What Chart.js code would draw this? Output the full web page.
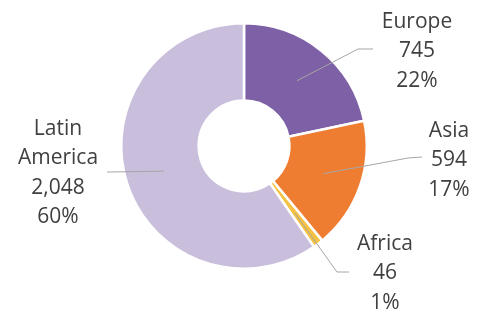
<!DOCTYPE html>
<html>
<head>
<meta charset="utf-8">
<script src="https://cdn.jsdelivr.net/npm/chart.js@4"></script>
<style>
  html, body { margin: 0; padding: 0; background: #fff; }
  #wrap { width: 485px; height: 311px; }
</style>
</head>
<body>
<div id="wrap"><canvas id="myChart"></canvas></div>
<script>
(function(){
  'use strict';

  const categories = ['Europe', 'Asia', 'Africa', 'Latin America'];
  const values = [745, 594, 46, 2048];
  const sliceColors = ['#7E60A6', '#EF7D31', '#F5C143', '#C9BEDC'];

  // label placement: text centre x, first line y, leader bend + end
  const labelSpots = [
    {x: 417, y: 22, bend: [358, 49], end: [373, 49]},
    {x: 449, y: 131, bend: [408, 158], end: [422, 157]},
    {x: 385, y: 244, bend: [337, 272], end: [349, 272]},
    {x: 58, y: 129, bend: [110, 172], end: [107, 172]}
  ];
  const lineGap = 29.3;

  const total = values.reduce((a, b) => a + b, 0);

  const calloutPlugin = {
    id: 'callouts',
    afterDatasetsDraw(chart){
      const ctx = chart.ctx;
      const arcs = chart.getDatasetMeta(0).data;
      ctx.save();
      arcs.forEach((arc, i) => {
        const spot = labelSpots[i];
        const p = arc.getCenterPoint();
        ctx.strokeStyle = '#A6A6A6';
        ctx.lineWidth = 1;
        ctx.beginPath();
        ctx.moveTo(p.x, p.y);
        ctx.lineTo(spot.bend[0], spot.bend[1]);
        ctx.lineTo(spot.end[0], spot.end[1]);
        ctx.stroke();

        const lines = categories[i].split(' ');
        lines.push(values[i].toLocaleString('en-US'));
        lines.push(Math.round(values[i] / total * 100) + '%');
        ctx.fillStyle = '#404040';
        ctx.font = '21px "Open Sans"';
        ctx.textAlign = 'center';
        ctx.textBaseline = 'middle';
        lines.forEach((t, k) => ctx.fillText(t, spot.x, spot.y + k * lineGap));
      });
      ctx.restore();
    }
  };

  const ctx = document.getElementById('myChart').getContext('2d');
  new Chart(ctx, {
    type: 'doughnut',
    data: {
      labels: categories,
      datasets: [{
        data: values,
        backgroundColor: sliceColors,
        borderColor: '#ffffff',
        borderWidth: 2.5
      }]
    },
    options: {
      responsive: true,
      maintainAspectRatio: false,
      animation: false,
      cutout: '37%',
      layout: { padding: { top: 22, bottom: 41, left: 120, right: 117 } },
      plugins: {
        legend: { display: false },
        tooltip: { enabled: false }
      }
    },
    plugins: [calloutPlugin]
  });
})();
</script>
</body>
</html>
